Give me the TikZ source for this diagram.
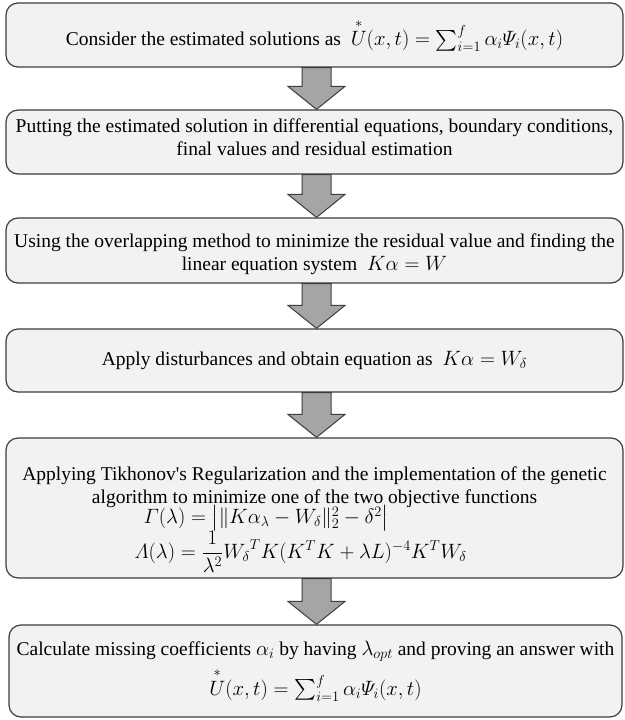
\documentclass[tikz,border=0pt]{standalone}
\usepackage{amsmath}
\usepackage{fontspec}
\setmainfont{Liberation Serif}
\usetikzlibrary{calc}
\definecolor{boxfill}{HTML}{F2F2F2}
\definecolor{boxline}{HTML}{3C3C3C}
\definecolor{arrowfill}{HTML}{A5A5A5}
\tikzset{
  stepbox/.style={draw=boxline, line width=1.2pt, fill=boxfill, rounded corners=12pt,
    minimum width=617pt, align=center, inner sep=0pt,
    font=\fontsize{19.5}{23}\selectfont},
  blockarrow/.style={draw=boxline, line width=1pt, fill=arrowfill, line join=miter}
}
\newcommand{\flowarrow}[2]{%
  \path[blockarrow] let \p1=(#1.south), \p2=(#2.north) in
    (\x1+2pt-14.5pt,\y1) -- (\x1+2pt+14.5pt,\y1) -- (\x1+2pt+14.5pt,\y2+23pt)
    -- (\x1+2pt+28.5pt,\y2+23pt) -- (\x1+2pt,\y2) -- (\x1+2pt-28.5pt,\y2+23pt)
    -- (\x1+2pt-14.5pt,\y2+23pt) -- cycle;}
\begin{document}
\begin{tikzpicture}[x=1pt,y=1pt]
\useasboundingbox (0,0) rectangle (624,-720);
\node[stepbox, minimum height=64pt] (b1) at (314.5,-35)
  {Consider the estimated solutions as \ $\overset{*}{U}(x,t)=\textstyle\sum_{i=1}^{f}\alpha_i\varPsi_i(x,t)$};
\node[stepbox, minimum height=64pt] (b2) at (314.5,-142)
  {Putting the estimated solution in differential equations, boundary conditions,\\ final values and residual estimation\rule[-10pt]{0pt}{10pt}};
\node[stepbox, minimum height=65pt] (b3) at (314.5,-250.5)
  {\rule{0pt}{22pt}Using the overlapping method to minimize the residual value and finding the\\ linear equation system \ $K\alpha=W$};
\node[stepbox, minimum height=63pt] (b4) at (314.5,-360.5)
  {Apply disturbances and obtain equation as \ $K\alpha=W_\delta$};
\node[stepbox, minimum height=140pt] (b5) at (314.5,-508)
  {\rule{0pt}{37pt}Applying Tikhonov\textquotesingle s Regularization and the implementation of the genetic\\
   algorithm to minimize one of the two objective functions\\[-3pt]
   \makebox[360pt][l]{\hspace{9pt}$\varGamma(\lambda)=\bigl|\|K\alpha_\lambda-W_\delta\|_2^2-\delta^2\bigr|$}\\[-1pt]
   \makebox[360pt][l]{$\varLambda(\lambda)=\dfrac{1}{\lambda^2}{W_\delta}^{T}K(K^{T}K+\lambda L)^{-4}K^{T}W_\delta$}};
\node[stepbox, minimum height=92pt, minimum width=613pt] (b6) at (315.5,-671)
  {Calculate missing coefficients $\alpha_i$ by having $\lambda_{opt}$ and proving an answer with\\[6pt]
   $\overset{*}{U}(x,t)=\textstyle\sum_{i=1}^{f}\alpha_i\varPsi_i(x,t)$};
\flowarrow{b1}{b2}
\flowarrow{b2}{b3}
\flowarrow{b3}{b4}
\flowarrow{b4}{b5}
\flowarrow{b5}{b6}
\end{tikzpicture}
\end{document}
